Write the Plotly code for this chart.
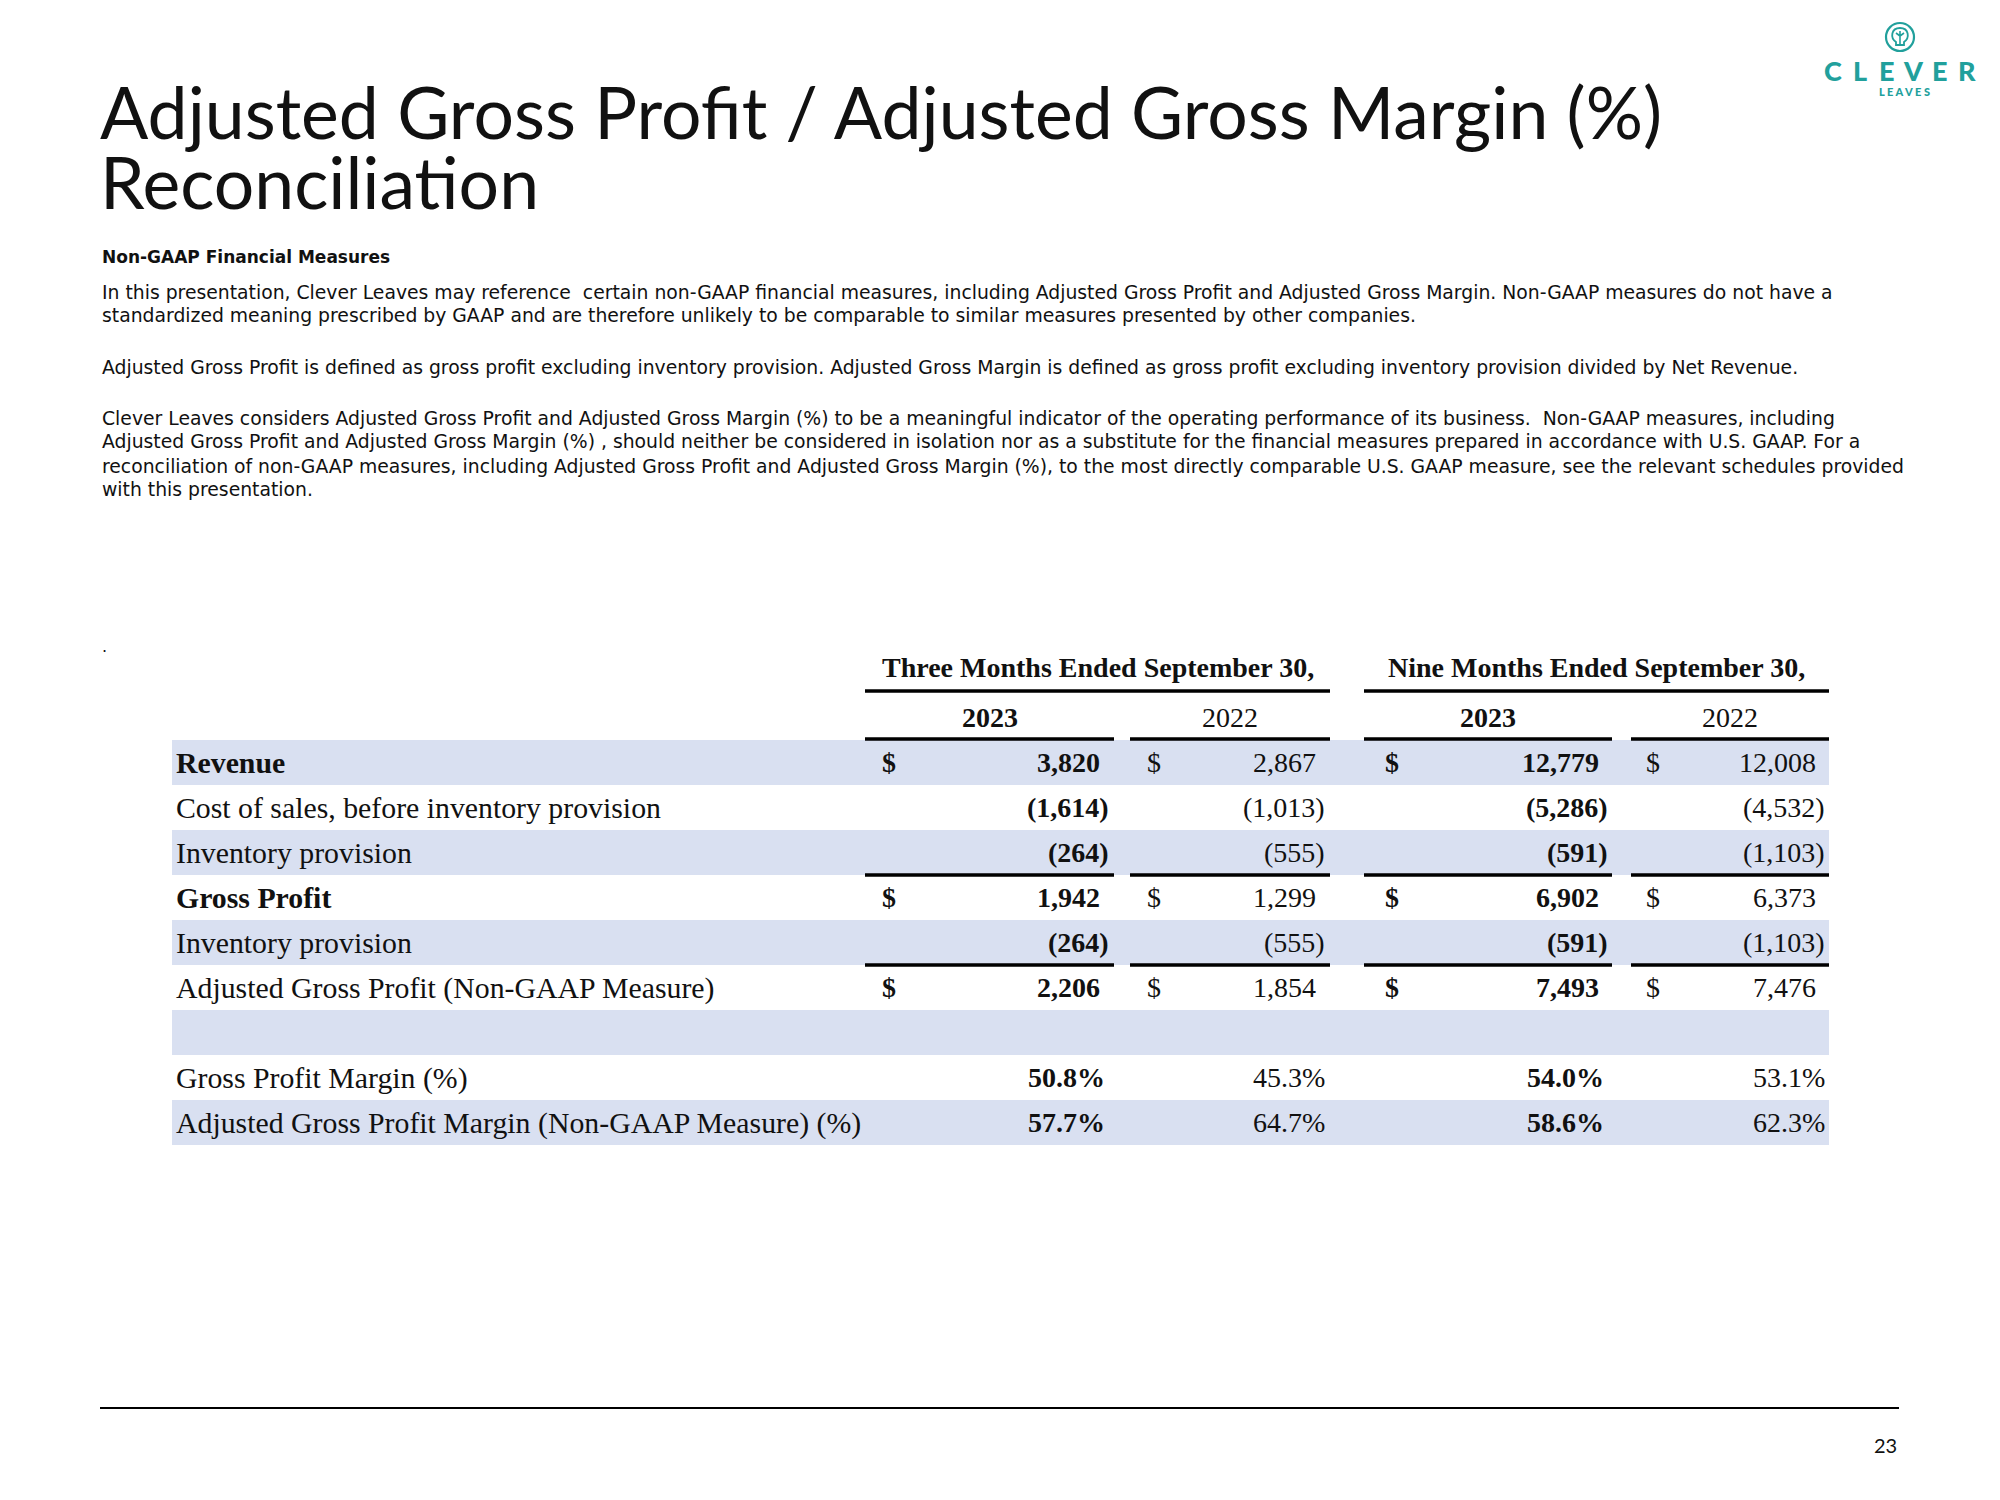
import plotly.graph_objects as go

# ---------------- data ----------------
title_lines = ["Adjusted Gross Profit / Adjusted Gross Margin (%)", "Reconciliation"]
subhead = "Non-GAAP Financial Measures"
para_lines = [
    "In this presentation, Clever Leaves may reference  certain non-GAAP financial measures, including Adjusted Gross Profit and Adjusted Gross Margin. Non-GAAP measures do not have a",
    "standardized meaning prescribed by GAAP and are therefore unlikely to be comparable to similar measures presented by other companies.",
    "Adjusted Gross Profit is defined as gross profit excluding inventory provision. Adjusted Gross Margin is defined as gross profit excluding inventory provision divided by Net Revenue.",
    "Clever Leaves considers Adjusted Gross Profit and Adjusted Gross Margin (%) to be a meaningful indicator of the operating performance of its business.  Non-GAAP measures, including",
    "Adjusted Gross Profit and Adjusted Gross Margin (%) , should neither be considered in isolation nor as a substitute for the financial measures prepared in accordance with U.S. GAAP. For a",
    "reconciliation of non-GAAP measures, including Adjusted Gross Profit and Adjusted Gross Margin (%), to the most directly comparable U.S. GAAP measure, see the relevant schedules provided",
    "with this presentation.",
]
period_headers = ["Three Months Ended September 30,", "Nine Months Ended September 30,"]
year_headers = ["2023", "2022", "2023", "2022"]
year_bold = [True, False, True, False]

row_labels = [
    "Revenue",
    "Cost of sales, before inventory provision",
    "Inventory provision",
    "Gross Profit",
    "Inventory provision",
    "Adjusted Gross Profit (Non-GAAP Measure)",
    "",
    "Gross Profit Margin (%)",
    "Adjusted Gross Profit Margin (Non-GAAP Measure) (%)",
]
label_bold = [True, False, False, True, False, False, False, False, False]
row_shaded = [True, False, True, False, True, False, True, False, True]
dollar_rows = [True, False, False, True, False, True, False, False, False]

three_2023 = [3820, -1614, -264, 1942, -264, 2206]
three_2022 = [2867, -1013, -555, 1299, -555, 1854]
nine_2023 = [12779, -5286, -591, 6902, -591, 7493]
nine_2022 = [12008, -4532, -1103, 6373, -1103, 7476]
gross_margin = [50.8, 45.3, 54.0, 53.1]
adj_gross_margin = [57.7, 64.7, 58.6, 62.3]
page_number = "23"

# ---------------- layout constants ----------------
TEAL = "#21a09c"
SHADE = "#d9e0f1"
SERIF = "Liberation Serif"
SANS = "Lato"
BODY = "DejaVu Sans"
TXT = "#111111"

annotations = []
shapes = []

def ann(x, y, text, size, family=SANS, xanchor="left", color=TXT, yanchor="middle", weight=None):
    f = dict(family=family, size=size, color=color)
    if weight is not None:
        f["weight"] = weight
    annotations.append(dict(x=x, y=y, xref="x", yref="y", text=text, showarrow=False,
                            xanchor=xanchor, yanchor=yanchor, font=f))

# title
ann(98, 111, title_lines[0], 71.5)
ann(98, 181, title_lines[1], 71.5)
# subheading + paragraphs
ann(100, 257, "<b>" + subhead + "</b>", 17, family=BODY)
para_y = [292, 315, 367, 418, 441, 466, 489]
for t, y in zip(para_lines, para_y):
    ann(100, y, t, 18.8, family=BODY)
ann(100, 646, ".", 16, family=BODY)

# logo
shapes.append(dict(type="circle", xref="x", yref="y", x0=1886, x1=1914, y0=23, y1=51,
                   line=dict(color=TEAL, width=2.2)))
shapes.append(dict(type="path", xref="x", yref="y",
                   path="M 1896,42 C 1890,38 1891,28 1900,28 C 1909,28 1910,38 1904,42 L 1904,45 L 1896,45 Z",
                   line=dict(color=TEAL, width=1.8)))
shapes.append(dict(type="path", xref="x", yref="y",
                   path="M 1900,45 L 1900,31 M 1900,36 L 1896,33 M 1900,36 L 1904,33",
                   line=dict(color=TEAL, width=1.6)))
for i, ch in enumerate("CLEVER"):
    ann(1833 + i * 26.8, 70, ch, 27, color=TEAL, xanchor="center", weight=900)
ann(1904, 91, "L E A V E S", 11, color=TEAL, xanchor="center", weight=900)

# ---------------- table ----------------
ROW_TOP = 740
ROW_H = 45
LABEL_X = 174
TABLE_X0, TABLE_X1 = 172, 1829
col_spans = [(865, 1114), (1130, 1330), (1364, 1612), (1631, 1829)]
period_spans = [(865, 1330), (1364, 1829)]
dollar_x = [889, 1154, 1392, 1653]
num_right = [1111, 1327, 1610, 1827]  # right edge incl. closing paren
PAREN_W = 9
col_bold = [True, False, True, False]

# shaded rows
for i, sh in enumerate(row_shaded):
    if sh:
        shapes.append(dict(type="rect", xref="x", yref="y", x0=TABLE_X0, x1=TABLE_X1,
                           y0=ROW_TOP + i * ROW_H, y1=ROW_TOP + (i + 1) * ROW_H,
                           fillcolor=SHADE, line=dict(width=0), layer="below"))

def hline(x0, x1, y, w=3.5):
    shapes.append(dict(type="line", xref="x", yref="y", x0=x0, x1=x1, y0=y, y1=y,
                       line=dict(color="black", width=w)))

# header lines
for (a, b) in period_spans:
    hline(a, b, 691)
for y in [ROW_TOP - 1, ROW_TOP + 3 * ROW_H, ROW_TOP + 5 * ROW_H]:
    for (a, b) in col_spans:
        hline(a, b, y)

# period headers
for (a, b), t in zip(period_spans, period_headers):
    ann((a + b) / 2, 667, "<b>" + t + "</b>", 28, family=SERIF, xanchor="center")
# year headers
for (a, b), t, bd in zip(col_spans, year_headers, year_bold):
    ann((a + b) / 2, 717, ("<b>%s</b>" % t) if bd else t, 28, family=SERIF, xanchor="center")

def fmt(v):
    return "(" + format(-v, ",") + ")" if v < 0 else format(v, ",")

def row_y(i):
    return ROW_TOP + i * ROW_H + ROW_H / 2

# row labels
for i, (lab, bd) in enumerate(zip(row_labels, label_bold)):
    if lab:
        ann(LABEL_X, row_y(i), ("<b>%s</b>" % lab) if bd else lab, 29.8, family=SERIF)

columns = [three_2023, three_2022, nine_2023, nine_2022]
for c, vals in enumerate(columns):
    for i, v in enumerate(vals):
        txt = fmt(v)
        xr = num_right[c] if v < 0 else num_right[c] - PAREN_W
        ann(xr, row_y(i), ("<b>%s</b>" % txt) if col_bold[c] else txt, 28,
            family=SERIF, xanchor="right")
        if dollar_rows[i]:
            ann(dollar_x[c], row_y(i), "<b>$</b>" if col_bold[c] else "$", 28,
                family=SERIF, xanchor="center")

for r, vals in zip([7, 8], [gross_margin, adj_gross_margin]):
    for c, v in enumerate(vals):
        txt = "%.1f%%" % v
        xr = num_right[c] - (4 if col_bold[c] else 0)
        ann(xr, row_y(r), ("<b>%s</b>" % txt) if col_bold[c] else txt, 28,
            family=SERIF, xanchor="right")

# footer
hline(100, 1899, 1408, w=1.8)
ann(1899, 1445, page_number, 20, xanchor="right")

fig = go.Figure()
fig.add_trace(go.Scatter(x=[0, 2000], y=[0, 1500], mode="markers",
                         marker=dict(opacity=0), hoverinfo="skip", showlegend=False))
fig.update_layout(
    width=2000, height=1500, autosize=False,
    margin=dict(l=0, r=0, t=0, b=0, pad=0),
    paper_bgcolor="white", plot_bgcolor="white",
    xaxis=dict(range=[0, 2000], visible=False, fixedrange=True),
    yaxis=dict(range=[1500, 0], visible=False, fixedrange=True),
    annotations=annotations, shapes=shapes, showlegend=False,
)
fig.write_html("out.html", post_script="document.body.style.margin='0';",
               config={"displayModeBar": False})
